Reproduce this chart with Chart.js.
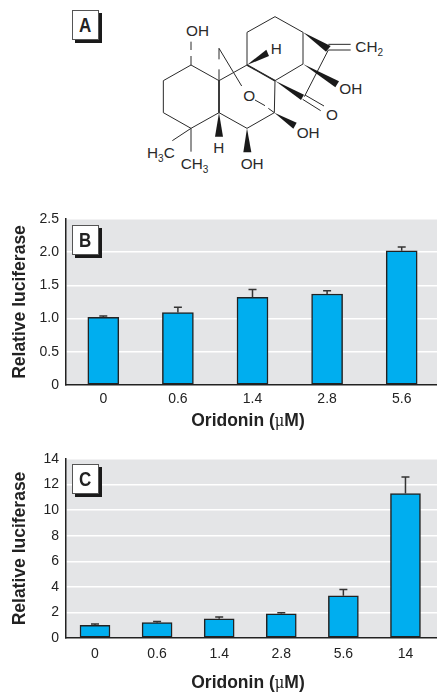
<!DOCTYPE html>
<html>
<head>
<meta charset="utf-8">
<title>Oridonin</title>
<script src="https://cdn.jsdelivr.net/npm/chart.js@4/dist/chart.umd.min.js"></script>
<style>
	html, body { margin: 0; padding: 0; background: #fff; }
	#page { position: relative; width: 437px; height: 692px; overflow: hidden; font-family: "Liberation Sans", sans-serif; }
	.panel { position: absolute; left: 0; width: 439px; }
	.panel canvas { display: block; }
	.tag { position: absolute; left: 72px; width: 25px; height: 28px; background: #fff; border: 1px solid #555; box-shadow: 3px 3px 0 #1a1a1a; font-weight: bold; font-size: 20px; line-height: 28px; text-align: center; color: #222; }
	.tag b { display: inline-block; transform: scaleX(0.85); }
	.xname { position: absolute; left: 66px; width: 364px; text-align: center; font-weight: bold; font-size: 19px; line-height: 20px; color: #222; transform: scaleX(0.92); }
	.xname span { font-family: "DejaVu Serif", serif; font-weight: normal; font-size: 16px; }
	#mol { position: absolute; left: 0; top: 0; }
	#mol line, #mol polyline { stroke: #2a2a2a; stroke-width: 3; fill: none; }
	#mol polygon { fill: #1a1a1a; }
	#mol text { font-family: "Liberation Sans", sans-serif; font-size: 46px; fill: #2a2a2a; }
	#mol tspan.s { font-size: 30px; }
</style>
</head>
<body>
<div id="page">
	<svg id="mol" width="437" height="200" viewBox="0 0 1311 600">
		<polyline points="573,195 490,242 490,338 573,385 657,338 657,242 573,195"/>
		<polyline points="657,242 741,195 741,97 825,50 909,97 909,192 825,242 741,195"/>
		<polyline points="657,338 741,385 823,338 825,242"/>
		<line x1="741" y1="195" x2="825" y2="242" style="stroke-width:5"/>
		<line x1="657" y1="242" x2="657" y2="338" style="stroke-width:5"/>
		<line x1="573" y1="125" x2="573" y2="150"/>
		<line x1="573" y1="168" x2="573" y2="195"/>
		<line x1="985" y1="133" x2="1052" y2="133"/>
		<line x1="985" y1="150" x2="1052" y2="150"/>
		<line x1="985" y1="150" x2="913" y2="290"/>
		<line x1="915" y1="285" x2="972" y2="318"/>
		<line x1="908" y1="298" x2="962" y2="332"/>
		<line x1="573" y1="385" x2="517" y2="422"/>
		<line x1="573" y1="385" x2="573" y2="455"/>
		<line x1="657" y1="145" x2="725" y2="258"/>
		<line x1="657" y1="145" x2="657" y2="178"/>
		<line x1="657" y1="208" x2="657" y2="242"/>
		<line x1="765" y1="300" x2="795" y2="317"/>
		<line x1="805" y1="325" x2="823" y2="338"/>
		<polygon points="909,97 992,138 978,155"/>
		<polygon points="909,192 1017,244 1006,262"/>
		<polygon points="825,242 912,284 903,300"/>
		<polygon points="823,338 890,368 880,386"/>
		<polygon points="741,385 754,457 730,457"/>
		<polygon points="657,338 669,410 645,410"/>
		<polygon points="741,195 799,149 807,168"/>
		<text x="558" y="108">OH</text>
		<text x="812" y="163">H</text>
		<text x="1066" y="156">CH<tspan class="s" dy="12">2</tspan></text>
		<text x="1018" y="282">OH</text>
		<text x="730" y="304">O</text>
		<text x="978" y="359">O</text>
		<text x="890" y="414">OH</text>
		<text x="640" y="460">H</text>
		<text x="722" y="507">OH</text>
		<text x="441" y="473">H<tspan class="s" dy="12">3</tspan><tspan dy="-12">C</tspan></text>
		<text x="542" y="507">CH<tspan class="s" dy="12">3</tspan></text>
	</svg>
	<div class="tag" style="top:10px"><b>A</b></div>

	<div class="panel" style="top:200px;height:240px"><canvas id="chartB"></canvas></div>
	<div class="tag" style="top:225px"><b>B</b></div>
	<div class="xname" style="top:410px">Oridonin (<span>μ</span>M)</div>

	<div class="panel" style="top:440px;height:252px"><canvas id="chartC"></canvas></div>
	<div class="tag" style="top:464px"><b>C</b></div>
	<div class="xname" style="top:672px">Oridonin (<span>μ</span>M)</div>
</div>
<script>
// --- Data ---
const categoriesB = ["0", "0.6", "1.4", "2.8", "5.6"];
const valuesB = [1.02, 1.09, 1.32, 1.37, 2.02];
const errorTopsB = [1.04, 1.17, 1.44, 1.42, 2.08];
const ticksB = [0, 0.5, 1.0, 1.5, 2.0, 2.5];

const categoriesC = ["0", "0.6", "1.4", "2.8", "5.6", "14"];
const valuesC = [1.0, 1.2, 1.5, 1.9, 3.3, 11.3];
const errorTopsC = [1.1, 1.3, 1.65, 1.98, 3.8, 12.6];
const ticksC = [0, 2, 4, 6, 8, 10, 12, 14];

const INK = "#222222";
const PANEL_GRAY = "#e4e5e7";
const BAR_BLUE = "#00aeef";
const TICK_FONT = { family: '"Liberation Sans", sans-serif', size: 14 };

// gray plot background
const backdrop = {
	id: "backdrop",
	beforeDraw(chart) {
		const a = chart.chartArea;
		chart.ctx.fillStyle = PANEL_GRAY;
		chart.ctx.fillRect(a.left, a.top, a.right - a.left, a.bottom - a.top);
	}
};

// upper error whiskers, placed through the chart's scales
const whiskers = {
	id: "whiskers",
	afterDatasetsDraw(chart, args, opts) {
		const ctx = chart.ctx;
		const y = chart.scales.y;
		const bars = chart.getDatasetMeta(0).data;
		ctx.save();
		ctx.strokeStyle = "#333333";
		ctx.lineWidth = 1.5;
		bars.forEach((bar, i) => {
			const top = y.getPixelForValue(opts.tops[i]);
			ctx.beginPath();
			ctx.moveTo(bar.x, bar.y);
			ctx.lineTo(bar.x, top);
			ctx.moveTo(bar.x - 4, top);
			ctx.lineTo(bar.x + 4, top);
			ctx.stroke();
		});
		ctx.restore();
	}
};

function drawPanel(id, categories, values, tops, ticks, yMax, opt) {
	new Chart(document.getElementById(id), {
		type: "bar",
		data: {
			datasets: [{
				data: values.map((v, i) => ({ x: i, y: v })),
				backgroundColor: BAR_BLUE,
				borderColor: INK,
				borderWidth: 1.5,
				barThickness: opt.barWidth,
				borderSkipped: false
			}]
		},
		options: {
			responsive: true,
			maintainAspectRatio: false,
			animation: false,
			layout: { padding: { top: opt.top, right: 0, left: 0, bottom: 0 } },
			plugins: {
				legend: { display: false },
				tooltip: { enabled: false },
				whiskers: { tops: tops }
			},
			scales: {
				x: {
					type: "linear",
					offset: false,
					min: opt.xMin,
					max: opt.xMax,
					afterFit: (s) => { s.height = opt.xHeight; },
					afterBuildTicks: (s) => { s.ticks = categories.map((c, i) => ({ value: i })); },
					grid: { display: false, drawTicks: false },
					border: { display: true, color: INK, width: 1.5 },
					ticks: {
						color: INK,
						font: TICK_FONT,
						padding: opt.xPad,
						maxRotation: 0,
						callback: (v) => categories[v]
					}
				},
				y: {
					min: 0,
					max: yMax,
					afterFit: (s) => { s.width = 66; },
					afterBuildTicks: (s) => { s.ticks = ticks.map((v) => ({ value: v })); },
					grid: { color: "#ffffff", lineWidth: 1.5, drawTicks: false },
					border: { display: true, color: INK, width: 1.5 },
					ticks: {
						color: INK,
						font: TICK_FONT,
						padding: 7,
						callback: (v) => (v === 0 ? "0" : (opt.fixed ? v.toFixed(1) : String(v)))
					},
					title: {
						display: true,
						text: "Relative luciferase",
						color: INK,
						font: { family: TICK_FONT.family, size: 17.5, weight: "bold" },
						padding: { top: 10, bottom: 10 }
					}
				}
			}
		},
		plugins: [backdrop, whiskers]
	});
}

drawPanel("chartB", categoriesB, valuesB, errorTopsB, ticksB, 2.5, { top: 19, xHeight: 55, xPad: 6, barWidth: 31, fixed: true, xMin: -0.5, xMax: 4.5 });
drawPanel("chartC", categoriesC, valuesC, errorTopsC, ticksC, 14, { top: 19, xHeight: 54, xPad: 8, barWidth: 30, fixed: false, xMin: -0.467, xMax: 5.54 });
</script>
</body>
</html>
